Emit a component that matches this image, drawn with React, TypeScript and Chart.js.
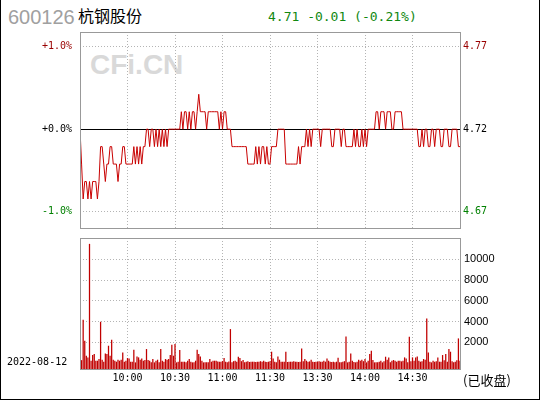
import { useEffect, useRef } from 'react'
import Chart from 'chart.js/auto'

// previous close and minute data (9:30-11:30, 13:00-15:00)
const prevClose = 4.72

const prices = [
  4.72, 4.70, 4.68, 4.69, 4.69, 4.68, 4.69, 4.68, 4.69, 4.69,
  4.69, 4.68, 4.69, 4.71, 4.71, 4.70, 4.69, 4.70, 4.70, 4.71,
  4.71, 4.70, 4.70, 4.70, 4.69, 4.70, 4.70, 4.71, 4.71, 4.70,
  4.70, 4.70, 4.70, 4.70, 4.71, 4.70, 4.71, 4.70, 4.71, 4.70,
  4.71, 4.71, 4.72, 4.72, 4.71, 4.72, 4.72, 4.71, 4.72, 4.71,
  4.72, 4.71, 4.72, 4.71, 4.72, 4.71, 4.72, 4.72, 4.72, 4.72,
  4.72, 4.72, 4.72, 4.72, 4.73, 4.72, 4.73, 4.73, 4.72, 4.73,
  4.72, 4.73, 4.73, 4.72, 4.73, 4.74, 4.73, 4.73, 4.73, 4.73,
  4.72, 4.73, 4.73, 4.73, 4.73, 4.73, 4.73, 4.73, 4.72, 4.73,
  4.72, 4.73, 4.73, 4.72, 4.72, 4.72, 4.71, 4.71, 4.71, 4.71,
  4.71, 4.71, 4.71, 4.71, 4.71, 4.71, 4.70, 4.70, 4.70, 4.70,
  4.70, 4.71, 4.70, 4.71, 4.70, 4.71, 4.71, 4.70, 4.71, 4.70,
  4.70, 4.71, 4.71, 4.71, 4.71, 4.72, 4.72, 4.72, 4.72, 4.72,
  4.70, 4.70, 4.70, 4.70, 4.70, 4.70, 4.70, 4.70, 4.71, 4.70,
  4.71, 4.71, 4.71, 4.72, 4.71, 4.72, 4.71, 4.72, 4.72, 4.72,
  4.72, 4.72, 4.71, 4.72, 4.72, 4.72, 4.72, 4.72, 4.72, 4.71,
  4.71, 4.72, 4.72, 4.72, 4.72, 4.71, 4.72, 4.72, 4.71, 4.71,
  4.71, 4.71, 4.71, 4.72, 4.71, 4.72, 4.71, 4.71, 4.72, 4.71,
  4.72, 4.71, 4.72, 4.72, 4.72, 4.72, 4.72, 4.73, 4.73, 4.72,
  4.73, 4.73, 4.73, 4.72, 4.73, 4.73, 4.73, 4.72, 4.72, 4.73,
  4.73, 4.73, 4.73, 4.73, 4.72, 4.72, 4.72, 4.72, 4.72, 4.72,
  4.72, 4.72, 4.72, 4.72, 4.71, 4.71, 4.72, 4.71, 4.72, 4.72,
  4.71, 4.71, 4.72, 4.72, 4.71, 4.72, 4.72, 4.72, 4.71, 4.71,
  4.72, 4.72, 4.72, 4.71, 4.71, 4.72, 4.72, 4.72, 4.72, 4.71,
  4.71,
]

const volumes = [
  469, 300, 4181, 2165, 725, 565, 11477, 245, 789, 885,
  245, 245, 405, 3989, 341, 149, 949, 885, 1685, 725,
  2261, 341, 245, 149, 341, 245, 341, 1045, 149, 245,
  501, 469, 149, 149, 1301, 85, 661, 565, 341, 469,
  245, 309, 1365, 309, 245, 85, 405, 85, 245, 341,
  85, 1365, 245, 149, 405, 341, 405, 789, 1781, 725,
  1845, 85, 149, 1269, 149, 149, 149, 85, 245, 405,
  149, 85, 85, 245, 1301, 885, 661, 245, 85, 85,
  85, 85, 405, 149, 245, 245, 245, 180, 149, 149,
  210, 501, 149, 85, 180, 3285, 85, 200, 245, 150,
  629, 501, 200, 309, 85, 150, 181, 120, 149, 149,
  149, 120, 149, 149, 200, 149, 245, 149, 120, 149,
  200, 1109, 469, 149, 100, 661, 341, 150, 149, 149,
  1109, 120, 149, 149, 149, 200, 149, 149, 120, 149,
  1429, 200, 405, 245, 149, 180, 341, 149, 120, 149,
  149, 200, 149, 149, 245, 150, 469, 245, 149, 120,
  149, 85, 149, 533, 85, 85, 149, 200, 2581, 85,
  150, 949, 245, 120, 85, 149, 341, 245, 341, 200,
  405, 85, 245, 885, 1205, 309, 85, 85, 85, 150,
  245, 85, 200, 629, 341, 565, 85, 245, 309, 245,
  149, 245, 245, 180, 245, 565, 469, 85, 2549, 200,
  565, 245, 565, 661, 245, 149, 200, 405, 341, 4309,
  1045, 149, 85, 245, 149, 200, 565, 149, 149, 789,
  300, 885, 149, 1365, 1109, 200, 85, 149, 300, 2389,
  245,
]

const timeTicks = [30, 60, 90, 120, 150, 180, 210]
const timeLabels = ['10:00', '10:30', '11:00', '11:30', '13:30', '14:00', '14:30']
const pctTicks = [-1, 0, 1]
const volumeTicks = [2000, 4000, 6000, 8000, 10000]

const RED = '#990000'
const GREEN = '#008000'
const GRID = '#b4b4b4'
const MONO = '"DejaVu Sans Mono", monospace'
const VOL_MIN = -552
const VOL_MAX = 12040

const pctToPrice = (p: number) => prevClose * (1 + p / 100)
const pctColor = (p: number) => (p > 0 ? RED : p < 0 ? GREEN : '#000')

// gray frame round each panel, black line at previous close
const panelFrame = {
  id: 'panelFrame',
  beforeDatasetsDraw(chart: any) {
    const { ctx, chartArea: a, scales } = chart
    if (!scales.pc) return
    const y = Math.round(scales.pc.getPixelForValue(prevClose)) + 0.5
    ctx.save()
    ctx.strokeStyle = '#000'
    ctx.lineWidth = 1
    ctx.beginPath()
    ctx.moveTo(a.left, y)
    ctx.lineTo(a.right, y)
    ctx.stroke()
    ctx.restore()
  },
  afterDraw(chart: any) {
    const { ctx, chartArea: a } = chart
    ctx.save()
    ctx.strokeStyle = '#999'
    ctx.lineWidth = 1
    ctx.strokeRect(Math.round(a.left) + 0.5, Math.round(a.top) + 0.5, Math.round(a.width), Math.round(a.height))
    ctx.restore()
  },
}

// fixed axis sizes so the plot areas land where the reference has them
const fixSize = (w: number | null, h: number | null) => (ax: any) => {
  if (w !== null) ax.width = w
  if (h !== null) ax.height = h
  ax.paddingTop = 0
  ax.paddingBottom = 0
  ax.paddingLeft = 0
  ax.paddingRight = 0
}

const xAxis = (showLabels: boolean) => ({
  type: 'linear' as const,
  min: 0,
  max: 240,
  offset: false,
  afterBuildTicks: (ax: any) => {
    ax.ticks = timeTicks.map((v) => ({ value: v }))
  },
  ticks: {
    display: showLabels,
    autoSkip: false,
    maxRotation: 0,
    padding: 3,
    color: '#000',
    font: { family: MONO, size: 10 },
    callback: (_v: any, i: number) => timeLabels[i],
  },
  grid: { color: GRID, drawTicks: false, offset: false },
  border: { display: false, dash: [1, 2] },
  afterFit: fixSize(null, showLabels ? 31 : 0),
})

export default function App() {
  const priceRef = useRef<HTMLCanvasElement | null>(null)
  const volRef = useRef<HTMLCanvasElement | null>(null)

  useEffect(() => {
    document.body.style.margin = '0'
    const pctx = priceRef.current?.getContext('2d')
    const vctx = volRef.current?.getContext('2d')
    if (!pctx || !vctx) return

    const priceChart = new Chart(pctx, {
      type: 'line',
      data: {
        datasets: [
          {
            data: prices.map((p, i) => ({ x: i, y: p })),
            borderColor: '#c80000',
            borderWidth: 1,
            pointRadius: 0,
            tension: 0,
            yAxisID: 'pc',
          },
        ],
      },
      options: {
        animation: false,
        responsive: false,
        layout: { padding: { top: 32, bottom: 8, left: 0, right: 0 } },
        plugins: { legend: { display: false }, tooltip: { enabled: false } },
        scales: {
          x: xAxis(false),
          pc: {
            position: 'left',
            min: pctToPrice(-1.2),
            max: pctToPrice(1.18),
            afterBuildTicks: (ax: any) => {
              ax.ticks = pctTicks.map((p) => ({ value: pctToPrice(p) }))
            },
            ticks: {
              padding: 8,
              font: { family: MONO, size: 10 },
              color: (c: any) => pctColor(pctTicks[c.index]),
              callback: (_v: any, i: number) => {
                const p = pctTicks[i]
                return (p < 0 ? '-' : '+') + Math.abs(p).toFixed(1) + '%'
              },
            },
            grid: { color: GRID, drawTicks: false },
            border: { display: false, dash: [1, 2] },
            afterFit: fixSize(80, null),
          },
          pr: {
            position: 'right',
            min: pctToPrice(-1.2),
            max: pctToPrice(1.18),
            afterBuildTicks: (ax: any) => {
              ax.ticks = pctTicks.map((p) => ({ value: pctToPrice(p) }))
            },
            ticks: {
              padding: 3,
              font: { family: MONO, size: 10 },
              color: (c: any) => pctColor(pctTicks[c.index]),
              callback: (v: any) => Number(v).toFixed(2),
            },
            grid: { drawOnChartArea: false, drawTicks: false },
            border: { display: false },
            afterFit: fixSize(80, null),
          },
        },
      } as any,
      plugins: [panelFrame],
    })

    const volumeChart = new Chart(vctx, {
      type: 'bar',
      data: {
        datasets: [
          {
            data: volumes.map((v, i) => ({ x: i, y: v })),
            backgroundColor: '#c00000',
            base: VOL_MIN,
            barPercentage: 1,
            categoryPercentage: 0.8,
          },
        ],
      },
      options: {
        animation: false,
        responsive: false,
        layout: { padding: { top: 2, bottom: 0, left: 80, right: 0 } },
        plugins: { legend: { display: false }, tooltip: { enabled: false } },
        scales: {
          x: xAxis(true),
          y: {
            position: 'right',
            min: VOL_MIN,
            max: VOL_MAX,
            afterBuildTicks: (ax: any) => {
              ax.ticks = volumeTicks.map((v) => ({ value: v }))
            },
            ticks: {
              padding: 4,
              color: '#000',
              font: { family: '"Liberation Sans", Arial, sans-serif', size: 11 },
              callback: (v: any) => String(v),
            },
            grid: { color: GRID, drawTicks: false },
            border: { display: false, dash: [1, 2] },
            afterFit: fixSize(80, null),
          },
        },
      } as any,
      plugins: [panelFrame],
    })

    return () => {
      priceChart.destroy()
      volumeChart.destroy()
    }
  }, [])

  const abs = { position: 'absolute' as const, whiteSpace: 'nowrap' as const }

  return (
    <div style={{ position: 'relative', width: 540, height: 400, background: '#fff', overflow: 'hidden' }}>
      <div style={{ ...abs, left: 90, top: 51, font: 'bold 28px "Liberation Sans", Arial, sans-serif', lineHeight: '28px', color: '#d9d9d9' }}>
        CFi.CN
      </div>
      <div style={{ ...abs, left: 8, top: 7, font: '20px "Liberation Sans", Arial, sans-serif', lineHeight: '20px', color: '#a0a0a0' }}>
        600126
      </div>
      <div style={{ ...abs, left: 78, top: 7, font: '16px "Noto Sans CJK SC", sans-serif', lineHeight: '16px', color: '#000' }}>
        杭钢股份
      </div>
      <div style={{ ...abs, left: 268, top: 10, font: `13px ${MONO}`, lineHeight: '13px', color: '#118811' }}>
        4.71 -0.01 (-0.21%)
      </div>
      <canvas ref={priceRef} width={540} height={236} style={{ position: 'absolute', left: 0, top: 0, width: 540, height: 236 }} />
      <canvas ref={volRef} width={540} height={164} style={{ position: 'absolute', left: 0, top: 236, width: 540, height: 164 }} />
      <div style={{ ...abs, left: 7, top: 357, font: `10px ${MONO}`, lineHeight: '10px', color: '#000' }}>
        2022-08-12
      </div>
      <div style={{ ...abs, left: 463, top: 373, font: '13px "Noto Sans CJK SC", sans-serif', lineHeight: '13px', color: '#000' }}>
        (已收盘)
      </div>
      <div
        style={{
          position: 'absolute',
          inset: 0,
          boxSizing: 'border-box',
          borderLeft: '1px solid #000',
          borderRight: '1px solid #000',
          borderBottom: '1px solid #000',
          pointerEvents: 'none',
        }}
      />
    </div>
  )
}
